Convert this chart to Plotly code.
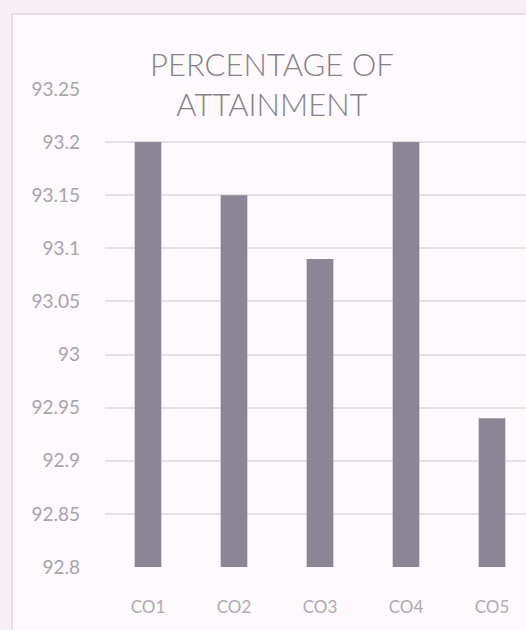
import plotly.graph_objects as go

categories = ["CO1", "CO2", "CO3", "CO4", "CO5"]
values = [93.2, 93.15, 93.09, 93.2, 92.94]
tick_vals = [92.8, 92.85, 92.9, 92.95, 93.0, 93.05, 93.1, 93.15, 93.2, 93.25]
tick_text = ["92.8", "92.85", "92.9", "92.95", "93", "93.05", "93.1", "93.15", "93.2", "93.25"]
title_text = "PERCENTAGE OF<br>ATTAINMENT"

W, H = 526, 630
L, R, T, B = 105, 0, 89, 63
pw, ph = W - L - R, H - T - B

fig = go.Figure(go.Bar(
    x=list(range(len(categories))), y=values,
    width=0.31,
    marker=dict(color="#8b8696", line=dict(width=0)),
))

fig.update_layout(
    width=W, height=H,
    margin=dict(l=L, r=R, t=T, b=B),
    paper_bgcolor="#f8eff6",
    plot_bgcolor="rgba(0,0,0,0)",
    showlegend=False,
    font=dict(family="Lato", color="#9a979c"),
    xaxis=dict(
        range=[-0.5, (pw / 86.0) - 0.5],
        tickmode="array",
        tickvals=list(range(len(categories))),
        ticktext=categories,
        showgrid=False, zeroline=False, showline=False,
        ticks="", tickfont=dict(size=17, color="#aeabb1"),
        ticklabelstandoff=28,
    ),
    yaxis=dict(
        range=[92.8, 93.25],
        tickmode="array", tickvals=tick_vals, ticktext=tick_text,
        showgrid=True, gridcolor="#e4e0e4", gridwidth=1.5,
        zeroline=False, showline=False, ticks="",
        tickfont=dict(size=19, color="#a7a4aa"),
        ticklabelstandoff=24,
    ),
    shapes=[dict(
        type="rect", xref="paper", yref="paper", layer="below",
        x0=(12 - L) / pw, x1=1.2, y0=-0.3, y1=(H - B - 14) / ph,
        fillcolor="#fdf9fc", line=dict(color="#dcd8dc", width=1.5),
    )],
    annotations=[dict(
        text=title_text, xref="paper", yref="paper",
        x=(272 - L) / pw, y=(H - B - 84) / ph,
        xanchor="center", yanchor="middle", showarrow=False,
        font=dict(family="Lato", size=31, color="#858289", weight=300),
        align="center",
    )],
)

fig.write_html(
    "out.html",
    config={"displayModeBar": False},
    post_script="document.body.style.margin='0';document.body.style.overflow='hidden';",
)
